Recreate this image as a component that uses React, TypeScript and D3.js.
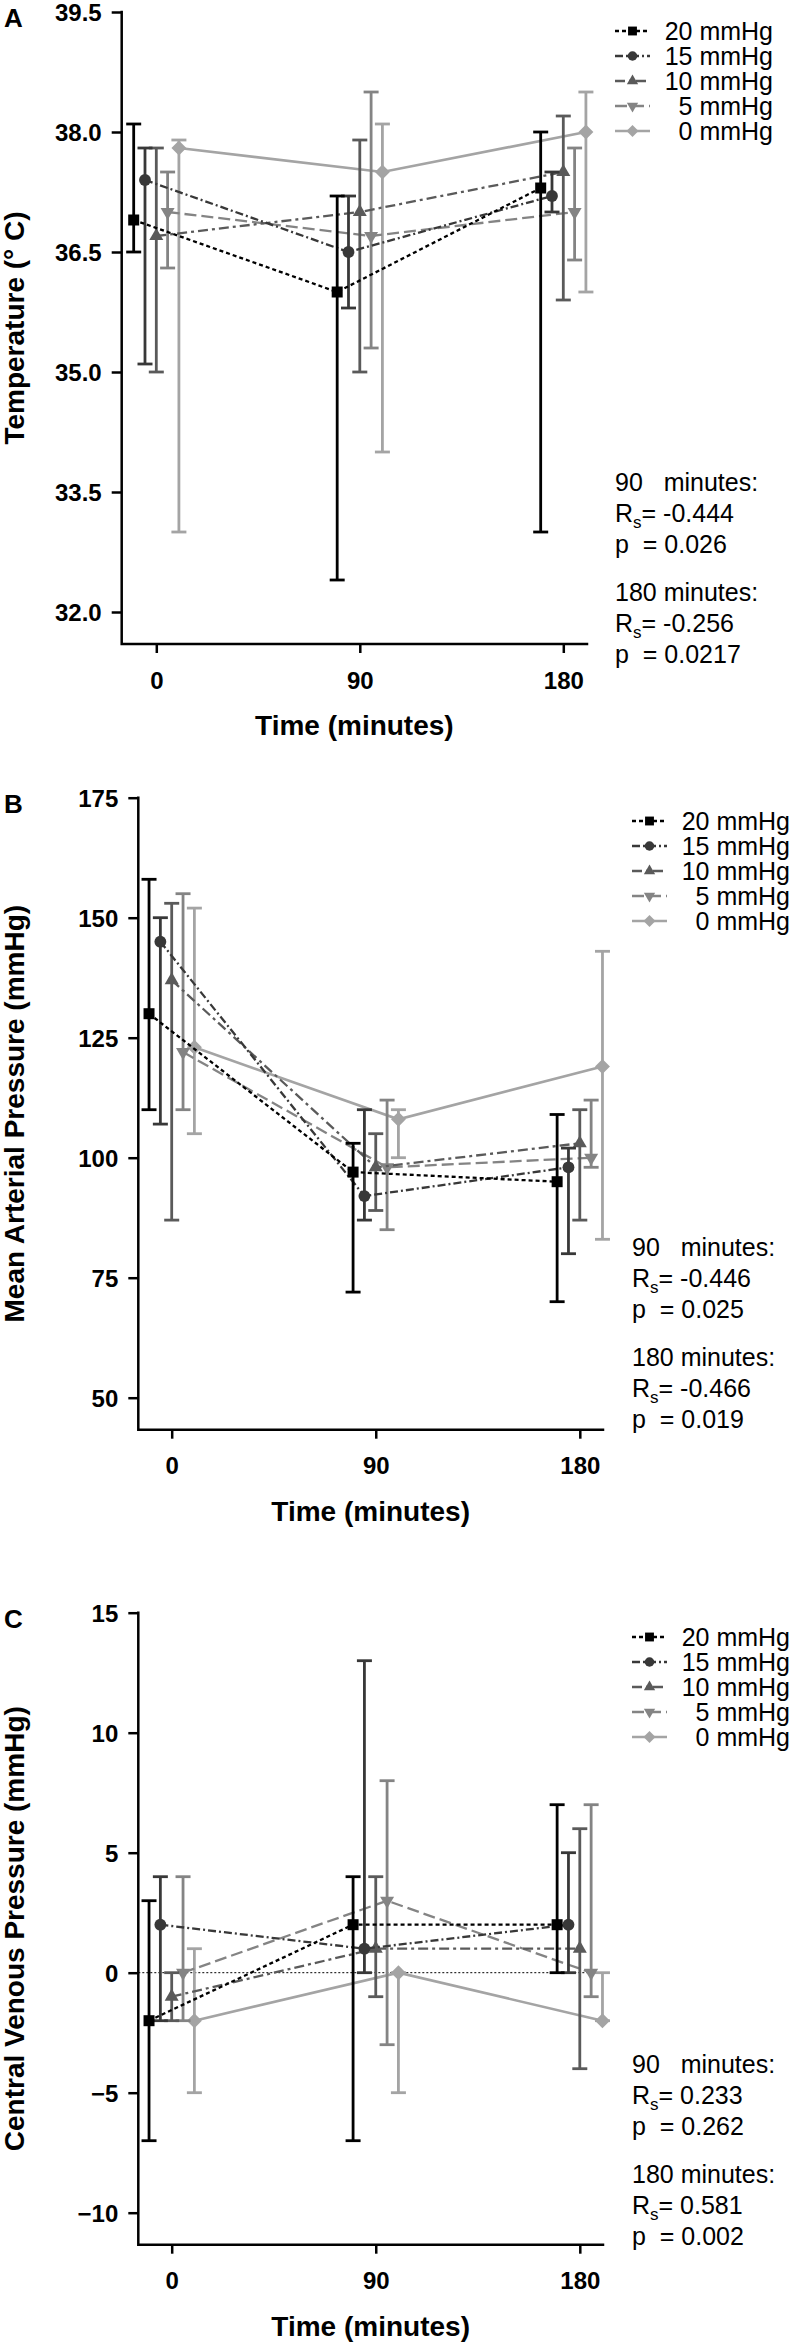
import * as d3 from 'd3'
import { useRef, useEffect } from 'react'

const times = [0, 90, 180]
const groups = ['20 mmHg', '15 mmHg', '10 mmHg', '5 mmHg', '0 mmHg']

// A - temperature
const tempMean = [
    [36.9, 36.0, 37.3],
    [37.4, 36.5, 37.2],
    [36.7, 37.0, 37.5],
    [37.0, 36.7, 37.0],
    [37.8, 37.5, 38.0],
]
const tempLow = [
    [36.5, 32.4, 33.0],
    [35.1, 35.8, 37.0],
    [35.0, 35.0, 35.9],
    [36.3, 35.3, 36.4],
    [33.0, 34.0, 36.0],
]
const tempHigh = [
    [38.1, 37.2, 38.0],
    [37.8, 37.2, 37.5],
    [37.8, 37.9, 38.2],
    [37.5, 38.5, 37.8],
    [37.9, 38.1, 38.5],
]
const tempTicks = [32.0, 33.5, 35.0, 36.5, 38.0, 39.5]
const tempStats = ['-0.444', '0.026', '-0.256', '0.0217']

// B - mean arterial pressure
const mapMean = [
    [130, 97, 95],
    [145, 92, 98],
    [137, 98, 103],
    [122, 98, 100],
    [123, 108, 119],
]
const mapLow = [
    [110, 72, 70],
    [107, 87, 80],
    [87, 89, 87],
    [110, 85, 98],
    [105, 100, 83],
]
const mapHigh = [
    [158, 103, 109],
    [150, 110, 102],
    [153, 105, 110],
    [155, 112, 112],
    [152, 110, 143],
]
const mapTicks = [50, 75, 100, 125, 150, 175]
const mapStats = ['-0.446', '0.025', '-0.466', '0.019']

// C - central venous pressure
const cvpMean = [
    [-2, 2, 2],
    [2, 1, 2],
    [-1, 1, 1],
    [0, 3, 0],
    [-2, 0, -2],
]
const cvpLow = [
    [-7, -7, 0],
    [-2, 0, 0],
    [-2, -1, -4],
    [-2, -3, -1],
    [-5, -5, -2],
]
const cvpHigh = [
    [3, 4, 7],
    [4, 13, 5],
    [0, 4, 6],
    [4, 8, 7],
    [1, 0, 0],
]
const cvpTicks = [-10, -5, 0, 5, 10, 15]
const cvpStats = ['0.233', '0.262', '0.581', '0.002']

const FONT = "'Liberation Sans', Arial, Helvetica, sans-serif"
const colors = ['#000000', '#383838', '#5a5a5a', '#848484', '#a4a4a4']
const dashes = ['4,3', '8,3,2,3', '10,4,3,4', '12,5', 'none']
const dodge = [-10, -5, 0, 5, 10]
const symbolTypes = [d3.symbolSquare, d3.symbolCircle, d3.symbolTriangle, d3.symbolTriangle, d3.symbolSquare]
const symbolRot = [0, 0, 0, 180, 45]
const symbolSize = [121, 110, 85, 85, 112]

interface Panel {
    letter: string
    title: string
    ticks: number[]
    fmt: (v: number) => string
    mean: number[][]
    low: number[][]
    high: number[][]
    stats: string[]
    top: number
    bottom: number
    axisY: number
    axisX: number
    x0: number
    x180: number
    axisEnd: number
    legendX: number
    textEnd: number
    legendY: number
    statsY: number
    zero?: boolean
}

const panels: Panel[] = [
    {
        letter: 'A', title: 'Temperature (° C)', ticks: tempTicks, fmt: d3.format('.1f'),
        mean: tempMean, low: tempLow, high: tempHigh, stats: tempStats,
        top: 12, bottom: 612, axisY: 644, axisX: 121.7, x0: 156.3, x180: 563.3, axisEnd: 587,
        legendX: 615, textEnd: 773, legendY: 31, statsY: 482,
    },
    {
        letter: 'B', title: 'Mean Arterial Pressure (mmHg)', ticks: mapTicks, fmt: d3.format('d'),
        mean: mapMean, low: mapLow, high: mapHigh, stats: mapStats,
        top: 797.7, bottom: 1397.7, axisY: 1429.7, axisX: 138.3, x0: 171.7, x180: 579.8, axisEnd: 603,
        legendX: 632, textEnd: 790, legendY: 821, statsY: 1247,
    },
    {
        letter: 'C', title: 'Central Venous Pressure (mmHg)', ticks: cvpTicks, fmt: d3.format('d'),
        mean: cvpMean, low: cvpLow, high: cvpHigh, stats: cvpStats,
        top: 1612.7, bottom: 2212.7, axisY: 2244.7, axisX: 138.3, x0: 171.7, x180: 579.8, axisEnd: 603,
        legendX: 632, textEnd: 790, legendY: 1637, statsY: 2064, zero: true,
    },
]

const marker = (i: number, scale = 1) =>
    d3.symbol().type(symbolTypes[i]).size(symbolSize[i] * scale)()

const drawPanel = (svg: d3.Selection<SVGSVGElement, unknown, null, undefined>, p: Panel) => {
    const x = d3.scaleLinear().domain([0, 180]).range([p.x0, p.x180])
    const y = d3.scaleLinear().domain([p.ticks[0], p.ticks[p.ticks.length - 1]]).range([p.bottom, p.top])
    const g = svg.append('g')

    // axes
    g.append('path')
        .attr('d', `M${p.axisX},${p.top}V${p.axisY}H${p.axisEnd}`)
        .attr('fill', 'none')
        .attr('stroke', '#000')
        .attr('stroke-width', 2.5)
        .attr('stroke-linecap', 'square')

    g.append('g')
        .attr('transform', `translate(${p.axisX},0)`)
        .call(d3.axisLeft(y).tickValues(p.ticks).tickFormat(p.fmt as any).tickSize(10).tickPadding(10).tickSizeOuter(0))
        .call(a => a.select('.domain').remove())
        .call(a => a.selectAll('line').attr('stroke-width', 2.5))
        .call(a => a.selectAll('text').attr('dy', '0.36em').style('font', `bold 24px ${FONT}`))

    g.append('g')
        .attr('transform', `translate(0,${p.axisY})`)
        .call(d3.axisBottom(x).tickValues(times).tickFormat(d3.format('d') as any).tickSize(9).tickPadding(18.5).tickSizeOuter(0))
        .call(a => a.select('.domain').remove())
        .call(a => a.selectAll('line').attr('stroke-width', 2.5))
        .call(a => a.selectAll('text').style('font', `bold 24px ${FONT}`))

    if (p.zero) {
        g.append('line')
            .attr('x1', p.axisX).attr('x2', p.axisEnd)
            .attr('y1', y(0)).attr('y2', y(0))
            .attr('stroke', '#000').attr('stroke-width', 1).attr('stroke-dasharray', '2,2')
    }

    // titles
    g.append('text')
        .attr('x', 4).attr('y', p.top + 15)
        .style('font', `bold 26px ${FONT}`)
        .text(p.letter)

    g.append('text')
        .attr('transform', `translate(24,${(p.top + p.axisY) / 2}) rotate(-90)`)
        .attr('text-anchor', 'middle')
        .style('font', `bold 28px ${FONT}`)
        .text(p.title)

    g.append('text')
        .attr('x', (p.axisX + p.axisEnd) / 2).attr('y', p.axisY + 91)
        .attr('text-anchor', 'middle')
        .style('font', `bold 28px ${FONT}`)
        .text('Time (minutes)')

    // series, 0 mmHg first so black ends up on top
    for (let i = groups.length - 1; i >= 0; i--) {
        const pts = times.map((t, j) => ({
            t: t + dodge[i], m: p.mean[i][j], lo: p.low[i][j], hi: p.high[i][j],
        }))
        const sg = g.append('g')
        const line = d3.line<typeof pts[0]>().x(d => x(d.t)).y(d => y(d.m))
        sg.append('path')
            .attr('d', line(pts))
            .attr('fill', 'none')
            .attr('stroke', colors[i])
            .attr('stroke-width', i === 4 ? 2.6 : 2.3)
            .attr('stroke-dasharray', dashes[i])

        const bars = sg.selectAll('.bar').data(pts).enter().append('g')
        bars.append('line')
            .attr('x1', d => x(d.t)).attr('x2', d => x(d.t))
            .attr('y1', d => y(d.lo)).attr('y2', d => y(d.hi))
            .attr('stroke', colors[i]).attr('stroke-width', 2.8)
        ;[(d: typeof pts[0]) => d.lo, (d: typeof pts[0]) => d.hi].forEach(acc => {
            bars.append('line')
                .attr('x1', d => x(d.t) - 7.5).attr('x2', d => x(d.t) + 7.5)
                .attr('y1', d => y(acc(d))).attr('y2', d => y(acc(d)))
                .attr('stroke', colors[i]).attr('stroke-width', 2.8)
        })

        sg.selectAll('.pt').data(pts).enter().append('path')
            .attr('d', marker(i))
            .attr('transform', d => `translate(${x(d.t)},${y(d.m)}) rotate(${symbolRot[i]})`)
            .attr('fill', colors[i])
    }

    // legend
    groups.forEach((name, i) => {
        const ly = p.legendY + i * 25
        g.append('line')
            .attr('x1', p.legendX).attr('x2', p.legendX + 35)
            .attr('y1', ly).attr('y2', ly)
            .attr('stroke', colors[i]).attr('stroke-width', 2.3)
            .attr('stroke-dasharray', dashes[i])
        g.append('path')
            .attr('d', marker(i, 0.65))
            .attr('transform', `translate(${p.legendX + 17.5},${ly}) rotate(${symbolRot[i]})`)
            .attr('fill', colors[i])
        g.append('text')
            .attr('x', p.textEnd).attr('y', ly).attr('dy', '0.36em')
            .attr('text-anchor', 'end')
            .style('font', `25px ${FONT}`)
            .text(name)
    })

    // spearman stats
    const offs = [0, 31, 62, 110, 141, 172]
    const rows = [
        ['90   minutes:'],
        ['R', 's', `= ${p.stats[0]}`],
        [`p  = ${p.stats[1]}`],
        ['180 minutes:'],
        ['R', 's', `= ${p.stats[2]}`],
        [`p  = ${p.stats[3]}`],
    ]
    rows.forEach((parts, k) => {
        const t = g.append('text')
            .attr('x', p.legendX).attr('y', p.statsY + offs[k]).attr('dy', '0.36em')
            .attr('xml:space', 'preserve')
            .style('white-space', 'pre')
            .style('font', `25px ${FONT}`)
        if (parts.length === 1) t.text(parts[0])
        else {
            t.append('tspan').text(parts[0])
            t.append('tspan').attr('dy', 6).style('font-size', '17px').text(parts[1])
            t.append('tspan').attr('dy', -6).text(parts[2])
        }
    })
}

const App = () => {
    const svgRef = useRef<SVGSVGElement | null>(null)

    useEffect(() => {
        if (!svgRef.current) return
        const svg = d3.select(svgRef.current)
        svg.selectAll('*').remove()
        panels.forEach(p => drawPanel(svg, p))
    }, [])

    return (
        <div style={{ position: 'absolute', left: 0, top: 0, background: '#fff' }}>
            <svg ref={svgRef} width={790} height={2344} style={{ display: 'block', background: '#fff' }} />
        </div>
    )
}

export default App
